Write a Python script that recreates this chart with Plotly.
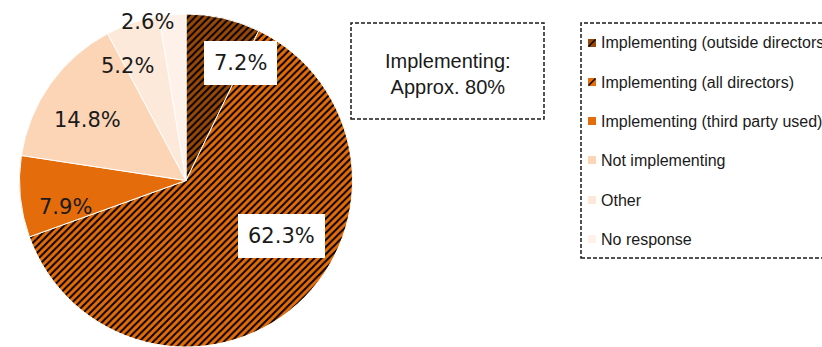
import plotly.graph_objects as go

# Survey breakdown (share of respondents, %)
categories = [
    "Implementing (outside directors)",
    "Implementing (all directors)",
    "Implementing (third party used)",
    "Not implementing",
    "Other",
    "No response",
]
shares = [7.2, 62.3, 7.9, 14.8, 5.2, 2.6]
colors = ["#984807", "#E46C0A", "#E46C0A", "#FBD5B6", "#FDE9D9", "#FEF1E9"]
patterns = ["/", "/", "", "", "", ""]
boxed = [True, True, False, False, False, False]

W, H = 822, 347

# label anchor points (pixels) for each slice's percentage
label_px = [(241, 63), (281, 236), (65, 207), (87, 120), (127, 66), (147, 22)]


def px(x):
    return x / W


def py(y):
    return 1 - y / H


fig = go.Figure()

fig.add_trace(go.Pie(
    labels=categories,
    values=shares,
    sort=False,
    direction="clockwise",
    rotation=0,
    textinfo="none",
    hoverinfo="label+percent",
    showlegend=False,
    marker=dict(
        colors=colors,
        line=dict(color="white", width=1),
        pattern=dict(shape=patterns, fgcolor="black", bgcolor=colors,
                     fillmode="replace", fgopacity=1, size=5, solidity=0.4),
    ),
    domain=dict(x=[19.5 / W, 352.5 / W], y=[0, (H - 14) / H]),
))

annotations = []
shapes = []

# percentage labels
for val, (lx, ly), box in zip(shares, label_px, boxed):
    annotations.append(dict(
        x=px(lx), y=py(ly), xref="paper", yref="paper",
        text=f"{val:.1f}%", showarrow=False,
        font=dict(family="DejaVu Sans", size=21, color="#1a1a1a"),
        bgcolor="white" if box else "rgba(0,0,0,0)",
        borderpad=10, borderwidth=0,
        xanchor="center", yanchor="middle",
    ))

# callout summarising the implementing share
shapes.append(dict(
    type="rect", xref="paper", yref="paper",
    x0=px(351), x1=px(544), y0=py(119), y1=py(23),
    line=dict(color="#1a1a1a", width=1.5, dash="4px,2px"),
    fillcolor="white",
))
annotations.append(dict(
    x=px(447.5), y=py(74), xref="paper", yref="paper",
    text="Implementing:<br>Approx. 80%", showarrow=False,
    font=dict(family="Liberation Sans", size=20, color="#1a1a1a"),
    align="center", xanchor="center", yanchor="middle",
))

# legend frame
shapes.append(dict(
    type="rect", xref="paper", yref="paper",
    x0=px(581), x1=px(860), y0=py(258), y1=py(23),
    line=dict(color="#1a1a1a", width=1.5, dash="4px,2px"),
))

# legend entries
row_y = [43, 82, 121, 160, 200, 239]
for name, col, pat, ry in zip(categories, colors, patterns, row_y):
    shapes.append(dict(
        type="rect", xref="paper", yref="paper",
        x0=px(588), x1=px(596), y0=py(ry + 4), y1=py(ry - 4),
        line=dict(width=0), fillcolor=col,
    ))
    if pat:
        shapes.append(dict(
            type="line", xref="paper", yref="paper",
            x0=px(588.5), x1=px(595.5), y0=py(ry + 3.5), y1=py(ry - 3.5),
            line=dict(color="black", width=1.5),
        ))
    annotations.append(dict(
        x=px(599), y=py(ry), xref="paper", yref="paper",
        text=name, showarrow=False,
        font=dict(family="Liberation Sans", size=16, color="#1a1a1a"),
        xanchor="left", yanchor="middle",
    ))

fig.update_layout(
    width=W, height=H,
    margin=dict(l=0, r=0, t=0, b=0),
    paper_bgcolor="white",
    plot_bgcolor="white",
    shapes=shapes,
    annotations=annotations,
)

fig.write_html("out.html")
